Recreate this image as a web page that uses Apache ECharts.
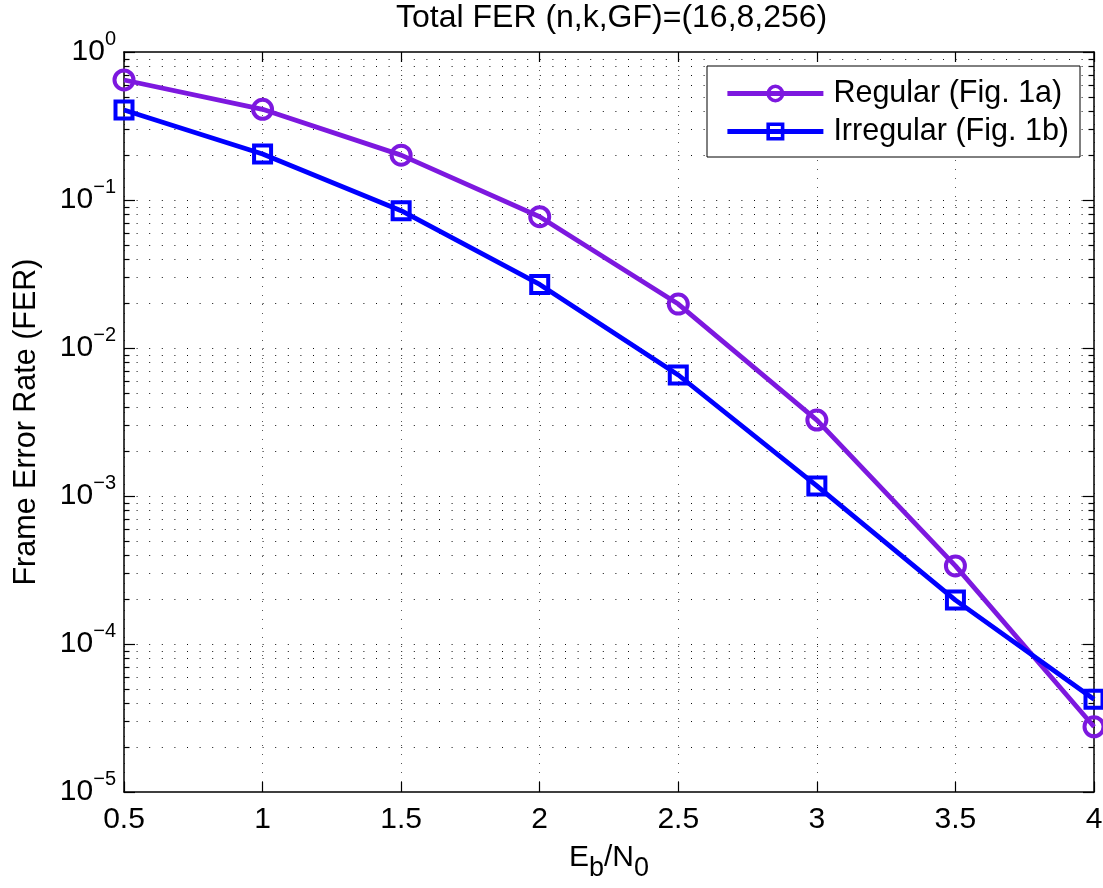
<!DOCTYPE html>
<html><head><meta charset="utf-8">
<script src="https://cdn.jsdelivr.net/npm/echarts@6/dist/echarts.min.js"></script>
<style>html,body{margin:0;padding:0;background:#fff}#c{width:1103px;height:888px}</style>
</head><body><div id="c"></div>
<script>
// ---- data ----
const ebn0 = [0.5, 1, 1.5, 2, 2.5, 3, 3.5, 4];
const regularFER = [0.647, 0.410, 0.201, 0.0771, 0.0198, 0.00326, 0.000337, 0.0000276];
const irregularFER = [0.406, 0.2046, 0.0847, 0.0269, 0.00657, 0.00117, 0.000198, 0.0000423];
const seriesNames = ['Regular (Fig. 1a)', 'Irregular (Fig. 1b)'];
const xTickStep = 0.5;
const xMin = 0.5, xMax = 4;
const yDecadeExponents = [-5, -4, -3, -2, -1, 0];
const minorMultipliers = [2, 3, 4, 5, 6, 7, 8, 9];
const titleText = 'Total FER (n,k,GF)=(16,8,256)';
const yName = 'Frame Error Rate (FER)';

const FONT = 'Liberation Sans, Arial, Helvetica, sans-serif';
const PURPLE = '#7d18df';
const BLUE = '#0000ff';
const yMin = Math.pow(10, yDecadeExponents[0]);
const yMax = Math.pow(10, yDecadeExponents[yDecadeExponents.length - 1]);

// grid line values (decades + minor 2..9)
const gridVals = [];
yDecadeExponents.forEach(function (e, i) {
  gridVals.push([xMin, Math.pow(10, e), 1]);
  if (i < yDecadeExponents.length - 1) {
    minorMultipliers.forEach(function (m) { gridVals.push([xMin, m * Math.pow(10, e), 0]); });
  }
});

function renderGrid(params, api) {
  const cs = params.coordSys;
  const v = api.value(1);
  const major = api.value(2) === 1;
  const y = Math.round(api.coord([api.value(0), v])[1]) + 0.5;
  const tl = major ? 11 : 5.5;
  const children = [];
  const atEdge = Math.abs(y - cs.y) < 2 || Math.abs(y - (cs.y + cs.height)) < 2;
  if (!atEdge) {
    children.push({type: 'line', shape: {x1: cs.x, y1: y, x2: cs.x + cs.width, y2: y},
      style: {stroke: '#111', lineWidth: 1, lineDash: [1, 11.6]}});
  }
  children.push({type: 'line', shape: {x1: cs.x, y1: y, x2: cs.x + tl, y2: y},
    style: {stroke: '#000', lineWidth: 1.2}});
  children.push({type: 'line', shape: {x1: cs.x + cs.width - tl, y1: y, x2: cs.x + cs.width, y2: y},
    style: {stroke: '#000', lineWidth: 1.2}});
  return {type: 'group', children: children};
}

function yLabel(value) {
  const e = Math.round(Math.log10(value));
  const s = e < 0 ? '\u2212' + (-e) : String(e);
  return '{b|10}{e|' + s + '}';
}

const chart = echarts.init(document.getElementById('c'), null, {renderer: 'canvas'});
const option = {
  animation: false,
  backgroundColor: '#fff',
  title: {
    text: titleText, left: 396, top: 2, padding: 0,
    textStyle: {fontSize: 32, fontWeight: 'normal', color: '#000', fontFamily: FONT}
  },
  grid: {left: 124, right: 9, top: 52, bottom: 96, containLabel: false, outerBoundsMode: 'none'},
  legend: {
    orient: 'vertical', left: 707, top: 66,
    padding: [12, 11, 10, 18],
    itemGap: 7, itemWidth: 96, itemHeight: 18,
    backgroundColor: '#fff', borderColor: '#000', borderWidth: 1, borderRadius: 0,
    selectedMode: false,
    lineStyle: {width: 4.8},
    itemStyle: {borderWidth: 3.6},
    textStyle: {fontSize: 30.5, color: '#000', fontFamily: FONT, padding: [0, 0, 0, 5]},
    data: seriesNames
  },
  xAxis: [{
    type: 'value', position: 'bottom', min: xMin, max: xMax, interval: xTickStep,
    axisLine: {show: true, onZero: false, lineStyle: {color: '#000', width: 1.5}},
    axisTick: {show: true, inside: true, length: 10, lineStyle: {color: '#000', width: 1.2}},
    axisLabel: {fontSize: 30, color: '#000', fontFamily: FONT, margin: 13},
    splitLine: {show: true, lineStyle: {color: '#555', width: 1, type: [1, 8]}},
    name: '{n|E}{s|b}{n|/N}{s|0}', nameLocation: 'middle', nameGap: 51,
    nameTextStyle: {
      color: '#000', fontFamily: FONT,
      rich: {
        n: {fontSize: 30, lineHeight: 30, verticalAlign: 'top', color: '#000', fontFamily: FONT},
        s: {fontSize: 27, lineHeight: 52, verticalAlign: 'middle', color: '#000', fontFamily: FONT}
      }
    }
  }, {
    type: 'value', position: 'top', min: xMin, max: xMax, interval: xTickStep,
    axisLine: {show: true, onZero: false, lineStyle: {color: '#000', width: 1.5}},
    axisTick: {show: true, inside: true, length: 10, lineStyle: {color: '#000', width: 1.2}},
    axisLabel: {show: false}, splitLine: {show: false}
  }],
  yAxis: [{
    type: 'log', logBase: 10, position: 'left', min: yMin, max: yMax,
    axisLine: {show: true, onZero: false, lineStyle: {color: '#000', width: 1.5}},
    axisTick: {show: false},
    splitLine: {show: false},
    axisLabel: {
      formatter: yLabel, margin: 8,
      rich: {
        b: {fontSize: 30, lineHeight: 46, verticalAlign: 'middle', color: '#000', fontFamily: FONT},
        e: {fontSize: 20, lineHeight: 30, verticalAlign: 'top', color: '#000', fontFamily: FONT}
      }
    },
    name: yName, nameLocation: 'middle', nameGap: 82,
    nameTextStyle: {fontSize: 30.5, color: '#000', fontFamily: FONT}
  }, {
    type: 'log', logBase: 10, position: 'right', min: yMin, max: yMax,
    axisLine: {show: true, onZero: false, lineStyle: {color: '#000', width: 1.5}},
    axisTick: {show: false}, axisLabel: {show: false}, splitLine: {show: false}
  }],
  series: [{
    type: 'custom', name: 'grid', coordinateSystem: 'cartesian2d', xAxisIndex: 0, yAxisIndex: 0,
    data: gridVals, encode: {x: 0, y: 1}, renderItem: renderGrid, silent: true, z: 1, clip: false
  }, {
    type: 'line', name: seriesNames[0], xAxisIndex: 0, yAxisIndex: 0,
    data: ebn0.map(function (x, i) { return [x, regularFER[i]]; }),
    symbol: 'circle', symbolSize: 19, showSymbol: true, clip: false, z: 3,
    lineStyle: {color: PURPLE, width: 4.8},
    itemStyle: {color: 'rgba(255,255,255,0)', borderColor: PURPLE, borderWidth: 4},
    emphasis: {disabled: true}
  }, {
    type: 'line', name: seriesNames[1], xAxisIndex: 0, yAxisIndex: 0,
    data: ebn0.map(function (x, i) { return [x, irregularFER[i]]; }),
    symbol: 'rect', symbolSize: 17, showSymbol: true, clip: false, z: 3,
    lineStyle: {color: BLUE, width: 4.8},
    itemStyle: {color: 'rgba(255,255,255,0)', borderColor: BLUE, borderWidth: 4},
    emphasis: {disabled: true}
  }]
};
chart.setOption(option);
</script>
</body></html>
